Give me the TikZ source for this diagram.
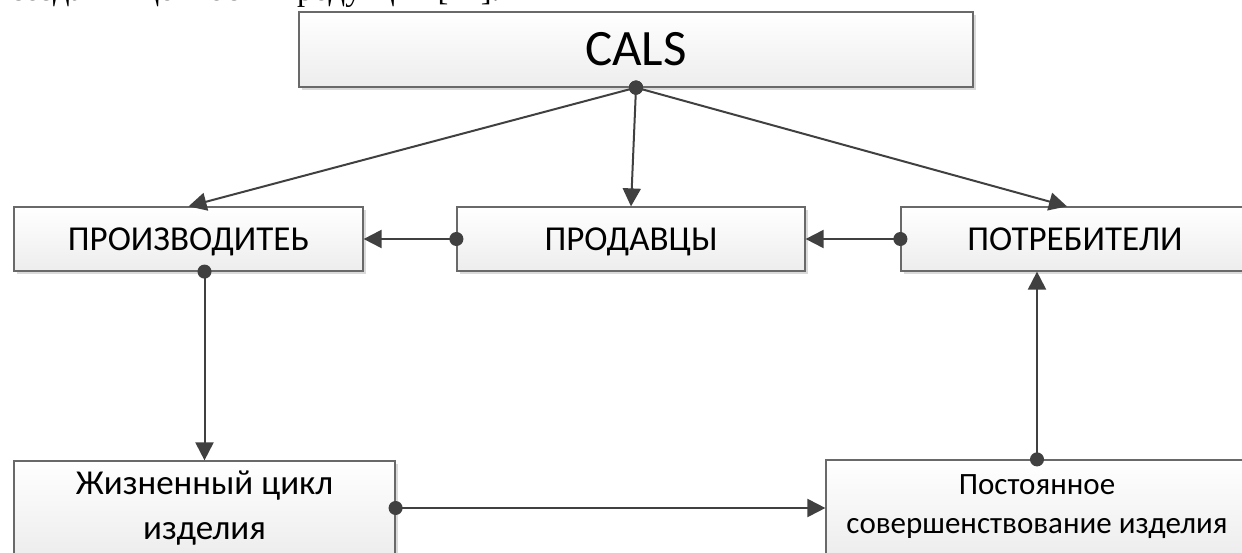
\documentclass[tikz,border=0pt]{standalone}
\usepackage{fontspec}
\setmainfont{Carlito}
\newfontfamily\cutserif{Liberation Serif}
\usetikzlibrary{arrows.meta,shadows}
\definecolor{boxline}{RGB}{105,105,105}
\definecolor{linkcol}{RGB}{64,64,64}
\definecolor{boxshade}{RGB}{237,237,237}
\definecolor{shadowcol}{RGB}{218,218,218}

\begin{document}
\begin{tikzpicture}[x=1pt,y=1pt]
            \tikzset{
	block/.style={draw=boxline, line width=1.2pt, top color=white, bottom color=boxshade,
		align=center, inner sep=0pt,
		drop shadow={shadow xshift=3pt, shadow yshift=-3pt, fill=shadowcol, opacity=1}},
	oneline/.style={text height=#1, text depth=0pt},
	midfont/.style={font=\fontsize{35}{45}\selectfont},
	link/.style={draw=linkcol, line width=2pt,
		{Circle[length=14pt]}-{Triangle[length=18pt,width=18pt]}, shorten <=-7pt}
}

\clip (0,0) rectangle (1242,-553);

% cut line of the page text above the figure
\node[anchor=base west, inner sep=0pt, font=\cutserif\fontsize{32.5}{36}\selectfont] (pagetext) at (10,-1)
	{создания ценности продукции [14].};

\node[block, oneline=33pt, minimum width=674pt, minimum height=75pt, font=\fontsize{51}{60}\selectfont] (cals) at (636,-49.5) {CALS};

\node[block, oneline=22.5pt, midfont, minimum width=349pt, minimum height=64pt] (maker) at (188.5,-239) {ПРОИЗВОДИТЕЬ};
\node[block, oneline=22.5pt, midfont, minimum width=348pt, minimum height=64pt] (seller) at (631,-239) {ПРОДАВЦЫ};
\node[block, oneline=22.5pt, midfont, minimum width=348pt, minimum height=64pt] (buyer) at (1075,-239) {ПОТРЕБИТЕЛИ};

\node[block, midfont, minimum width=381pt, minimum height=94pt] (cycle) at (204.5,-508) {Жизненный цикл\\изделия};
\node[block, font=\fontsize{31}{39}\selectfont, minimum width=422pt, minimum height=94pt] (improve) at (1037,-507)
	{Постоянное\\совершенствование изделия};

\draw[link] (cals.south) -- (maker.north);
\draw[link] (cals.south) -- (seller.north);
\draw[link] (cals.south) -- ([xshift=-8pt]buyer.north);
\draw[link] (seller.west) -- (maker.east);
\draw[link] (buyer.west) -- (seller.east);
\draw[link] (cycle.north |- maker.south) -- (cycle.north);
\draw[link] (cycle.east) -- (cycle.east -| improve.west);
\draw[link] (improve.north) -- (improve.north |- buyer.south);
        \end{tikzpicture}
\end{document}
